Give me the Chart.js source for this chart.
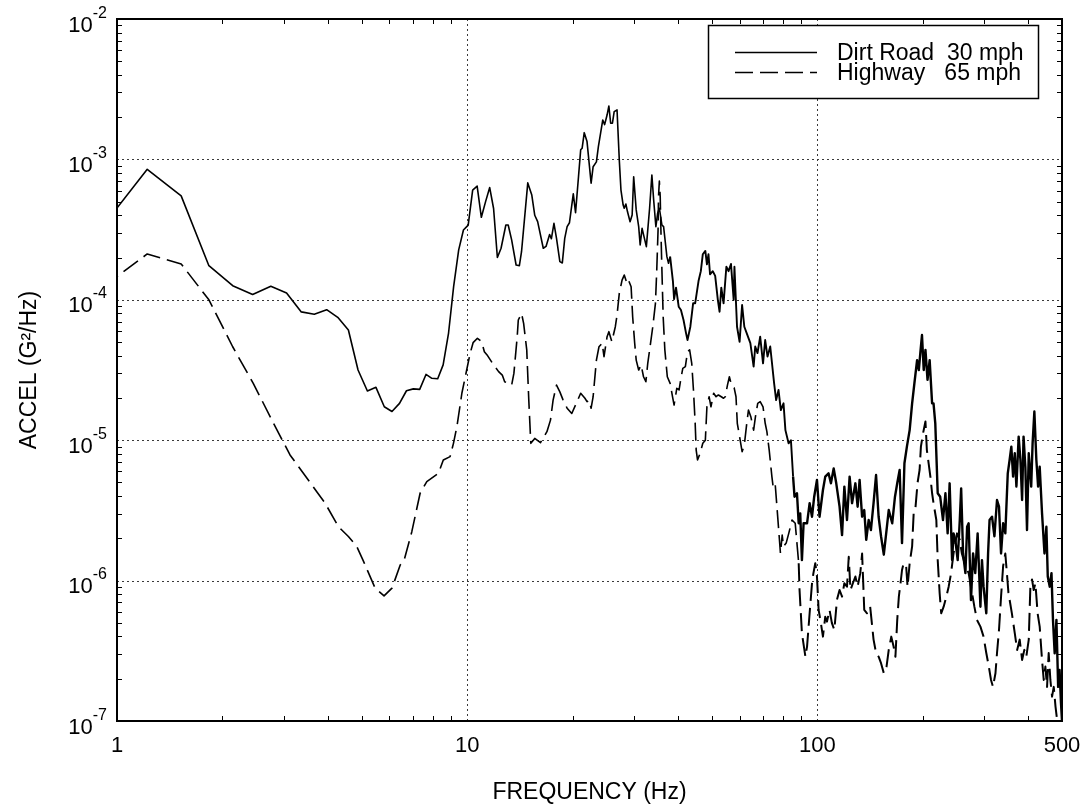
<!DOCTYPE html>
<html>
<head>
<meta charset="utf-8">
<script src="https://cdn.jsdelivr.net/npm/chart.js@4/dist/chart.umd.min.js"></script>
<style>
html,body{margin:0;padding:0;background:#fff;}
canvas{display:block;}
</style>
</head>
<body>
<canvas id="c" width="1087" height="808"></canvas>
<script>
// ---- axis / tick definitions ----
const xTickLabels = [1, 10, 100, 500];
const xGridLines = [10, 100];
const xMinorTicks = [2,3,4,5,6,7,8,9,20,30,40,50,60,70,80,90,200,300,400];
const yTickExponents = [-2, -3, -4, -5, -6, -7];
const yGridLines = [1e-3, 1e-4, 1e-5, 1e-6];
const yMinorMantissas = [2,3,4,5,6,7,8,9];
const yDecades = [1e-7, 1e-6, 1e-5, 1e-4, 1e-3];
const xTitle = 'FREQUENCY (Hz)';
const yTitle = 'ACCEL (G\u00B2/Hz)';
const labelDirt = 'Dirt Road  30 mph';
const labelHwy = 'Highway   65 mph';

// ---- Dirt Road 30 mph (solid) ----
const dirtFreq = [0.915,1.22,1.525,1.83,2.14,2.44,2.75,3.05,3.36,3.66,3.97,4.27,4.58,4.88,5.19,5.49,5.8,6.1,6.41,6.71,7.02,7.32,7.63,7.93,8.24,8.54,8.85,9.15,9.46,9.76,10.07,10.37,10.68,10.98,11.29,11.6,11.9,12.2,12.5,12.9,13.1,13.4,13.8,14.1,14.3,14.9,15.3,15.6,15.9,16.5,16.8,17.2,17.4,17.7,18.0,18.4,18.7,19.0,19.3,19.6,20.1,20.4,20.8,21.1,21.3,21.6,22.0,22.6,22.9,23.4,23.7,24.4,24.7,25.1,25.4,25.7,26.0,26.3,26.8,27.2,27.5,27.9,28.1,28.4,28.7,29.2,29.6,29.9,30.4,30.9,31.2,31.6,32.0,32.5,33.2,33.7,34.1,34.6,35.0,35.4,36.0,36.4,37.2,37.6,38.0,38.7,39.0,39.5,40.2,40.8,41.5,42.2,42.6,43.4,44.2,44.8,45.8,46.5,47.1,47.9,48.4,48.9,49.4,50.3,51.1,52.0,52.6,53.2,54.0,55.0,55.8,56.7,57.7,58.0,59.0,60.0,61.0,61.9,62.9,64.4,65.8,66.5,67.5,68.7,70.0,71.0,72.1,73.4,75.3,76.3,77.5,78.7,80.1,81.1,82.8,84.1,85.3,86.1,87.5,88.5,89.4,90.4,91.4,93.5,95.1,96.6,98.0,99.8,101.5,103.8,105.4,107.7,109.4,111.4,113.3,115.8,117.7,119.5,121.6,123.7,125.7,128.5,130.4,132.1,134.3,136.2,138.0,140.2,142.3,144.8,147.2,149.7,152.1,154.9,157.7,160.0,163.7,166.7,169.2,171.9,174.6,177.4,180.3,183.6,186.6,189.4,192.8,195.0,196.9,199.1,201.4,203.7,206.5,209.4,212.8,214.8,217.3,220.8,224.4,228.6,232.3,235.7,238.8,242.7,245.0,247.9,251.8,255.3,257.6,260.9,264.9,267.9,270.6,274.8,278.6,282.6,287.1,292.4,295.4,298.5,303.9,307.5,310.5,315.6,320.6,326.1,330.4,334.9,339.5,344.4,350.0,354.3,358.3,362.5,366.5,370.5,376.0,380.4,384.6,388.3,392.9,397.2,401.8,408.3,412.1,416.9,422.4,427.3,431.8,438.5,445.6,451.2,455.3,461.3,466.6,471.2,476.5,482.0,487.5,492.1,496.7,500];
const dirtAccel = [3.4e-4,8.5e-4,5.5e-4,1.75e-4,1.26e-4,1.09e-4,1.25e-4,1.12e-4,8.2e-5,7.9e-5,8.5e-5,7.5e-5,6.1e-5,3.16e-5,2.24e-5,2.38e-5,1.73e-5,1.6e-5,1.83e-5,2.25e-5,2.32e-5,2.3e-5,2.94e-5,2.76e-5,2.74e-5,3.44e-5,5.8e-5,1.24e-4,2.27e-4,3.14e-4,3.4e-4,6.05e-4,6.45e-4,3.87e-4,5.0e-4,6.3e-4,4.47e-4,2.0e-4,2.33e-4,3.41e-4,3.41e-4,2.67e-4,1.77e-4,1.75e-4,2.2e-4,6.8e-4,5.57e-4,4.0e-4,3.6e-4,2.33e-4,2.4e-4,2.92e-4,2.72e-4,3.5e-4,2.74e-4,1.87e-4,1.83e-4,2.74e-4,3.32e-4,3.54e-4,5.68e-4,4.18e-4,7.53e-4,1.17e-3,1.2e-3,1.55e-3,1.34e-3,6.76e-4,8.87e-4,9.6e-4,1.23e-3,1.91e-3,1.77e-3,2.07e-3,2.4e-3,1.81e-3,1.81e-3,2.19e-3,2.25e-3,9.9e-4,6.05e-4,4.73e-4,4.49e-4,4.81e-4,4.25e-4,3.6e-4,4.02e-4,7.53e-4,4.37e-4,3.32e-4,2.46e-4,3.23e-4,2.82e-4,2.39e-4,4.49e-4,7.74e-4,5.14e-4,3.32e-4,4.13e-4,4.49e-4,3.41e-4,3.32e-4,2.03e-4,1.82e-4,2.03e-4,1.36e-4,1.01e-4,1.22e-4,8.93e-5,8.45e-5,7.18e-5,5.77e-5,5.17e-5,6.43e-5,9.44e-5,9.44e-5,1.36e-4,1.6e-4,2.11e-4,2.23e-4,1.79e-4,2.11e-4,1.52e-4,1.6e-4,1.48e-4,1.0e-4,8.22e-5,1.22e-4,9.44e-5,1.72e-4,1.6e-4,1.8e-4,1.0e-4,1.72e-4,6.43e-5,5.02e-5,9.18e-5,6.43e-5,5.77e-5,4.91e-5,3.34e-5,4.65e-5,4.17e-5,5.46e-5,3.53e-5,5.17e-5,3.94e-5,4.65e-5,2.54e-5,1.93e-5,2.28e-5,1.64e-5,1.83e-5,1.18e-5,9.5e-6,1.0e-5,5.5e-6,3.96e-6,4.19e-6,2.56e-6,3.01e-6,1.4e-6,2.56e-6,2.56e-6,3.56e-6,2.85e-6,3.96e-6,5.21e-6,2.85e-6,4.42e-6,5.5e-6,5.81e-6,4.93e-6,6.3e-6,4.93e-6,3.36e-6,2.11e-6,4.67e-6,2.7e-6,5.5e-6,3.56e-6,4.93e-6,3.36e-6,5.21e-6,2.85e-6,3.18e-6,1.95e-6,2.7e-6,2.29e-6,3.56e-6,5.65e-6,2.85e-6,2.07e-6,1.53e-6,2.29e-6,3.18e-6,2.56e-6,3.96e-6,4.93e-6,6.14e-6,1.85e-6,6.85e-6,9.0e-6,1.18e-5,1.83e-5,2.54e-5,3.72e-5,3.16e-5,4.16e-5,5.61e-5,3.16e-5,4.4e-5,2.69e-5,3.72e-5,1.83e-5,1.83e-5,1.32e-5,4.19e-6,3.96e-6,2.7e-6,4.19e-6,2.17e-6,4.93e-6,1.4e-6,2.17e-6,1.95e-6,1.4e-6,2.7e-6,4.54e-6,1.56e-6,1.13e-6,2.42e-6,2.56e-6,7.26e-7,1.56e-6,1.13e-6,2.17e-6,6.52e-7,1.4e-6,9.05e-7,5.85e-7,1.56e-6,2.7e-6,2.85e-6,2.07e-6,3.75e-6,3.36e-6,1.56e-6,2.56e-6,2.17e-6,5.81e-6,7.23e-6,9.0e-6,5.5e-6,8.07e-6,4.67e-6,1.06e-5,7.23e-6,3.75e-6,1.06e-5,6.47e-6,2.29e-6,8.07e-6,4.67e-6,9.5e-6,1.6e-5,7.23e-6,4.67e-6,6.47e-6,3.01e-6,1.56e-6,2.42e-6,1.07e-6,9.05e-7,1.13e-6,5.25e-7,3.03e-7,5.25e-7,1.75e-7,2.31e-7,1.34e-7,1.0e-7];

// ---- Highway 65 mph (dashed) ----
const hwyFreq = [0.915,1.22,1.525,1.83,2.14,2.45,2.77,3.12,3.72,3.93,4.29,4.58,4.84,5.06,5.46,5.79,6.1,6.44,6.61,6.95,7.34,7.67,8.28,8.55,8.94,9.14,9.35,9.66,10.2,10.4,10.7,11.0,11.2,11.4,11.9,12.3,12.6,12.8,13.4,13.6,13.9,14.0,14.3,14.5,14.8,15.0,15.2,15.6,16.2,16.9,17.3,17.6,18.0,18.4,18.8,19.3,19.9,20.6,21.1,21.7,22.0,22.3,22.6,22.9,23.4,23.8,24.3,24.6,25.1,25.4,25.9,26.5,26.8,27.2,27.7,28.1,28.6,28.9,29.4,29.7,30.1,30.4,30.9,31.4,31.9,32.4,32.8,33.3,33.9,34.5,34.8,35.1,35.2,35.4,35.6,35.8,36.0,36.3,36.7,37.3,38.0,38.6,39.0,39.7,40.3,40.8,41.3,42.0,42.6,43.2,43.8,44.3,44.8,45.1,45.5,46.3,47.1,47.9,48.4,49.1,49.7,50.6,51.4,52.2,53.2,54.0,54.6,55.4,56.1,57.0,57.9,58.6,59.1,60.0,61.0,61.9,62.9,63.6,64.6,65.8,66.6,67.6,68.7,70.0,71.0,71.8,72.9,74.2,74.8,75.8,76.7,77.6,78.5,79.4,80.1,81.5,82.9,84.7,86.5,88.5,89.0,90.4,92.5,93.5,95.1,96.6,97.5,98.7,99.8,100.9,102.4,103.8,105.4,106.6,108.4,110.1,111.9,113.8,115.8,117.7,119.5,121.6,123.0,124.4,126.4,128.5,130.4,132.7,134.3,136.2,138.7,141.6,144.8,147.2,149.7,152.1,154.9,157.7,160.0,162.7,165.2,167.2,169.2,171.0,172.9,174.6,176.5,179.4,181.1,183.6,186.6,188.5,190.5,193.4,196.0,197.7,200.5,203.7,205.6,208.0,210.4,212.8,214.8,218.8,220.8,223.6,225.9,229.6,233.7,237.3,241.1,245.0,250.7,255.3,258.8,264.9,270.6,276.7,281.0,285.8,292.4,298.5,303.9,309.0,313.5,317.6,322.8,326.1,330.4,334.9,339.5,344.4,348.0,351.6,359.6,366.5,372.3,378.6,384.6,390.3,395.4,401.8,406.1,410.5,415.1,419.8,425.9,431.8,438.5,443.4,448.2,453.2,458.1,463.2,468.4,473.6,479.2,484.6,500];
const hwyAccel = [1.24e-4,2.12e-4,1.8e-4,1.0e-4,4.63e-5,2.54e-5,1.39e-5,7.85e-6,4.3e-6,3.56e-6,2.42e-6,2.06e-6,1.75e-6,1.37e-6,8.83e-7,7.78e-7,8.83e-7,1.29e-6,1.4e-6,2.23e-6,4.19e-6,5.07e-6,5.81e-6,7.23e-6,7.64e-6,9.5e-6,1.25e-5,2.16e-5,4.16e-5,4.95e-5,5.32e-5,5.03e-5,4.27e-5,4.05e-5,3.44e-5,3.08e-5,2.91e-5,2.61e-5,2.47e-5,2.99e-5,5.46e-5,7.18e-5,8.0e-5,6.8e-5,4.4e-5,1.93e-5,9.5e-6,1.03e-5,9.6e-6,1.15e-5,1.39e-5,1.93e-5,2.47e-5,2.21e-5,1.93e-5,1.69e-5,1.55e-5,1.88e-5,2.16e-5,1.99e-5,1.88e-5,1.93e-5,1.69e-5,2.04e-5,3.72e-5,4.63e-5,4.9e-5,3.94e-5,5.46e-5,5.93e-5,5.03e-5,6.43e-5,7.78e-5,1.11e-4,1.38e-4,1.5e-4,1.31e-4,1.38e-4,1.24e-4,7.58e-5,4.9e-5,3.72e-5,3.16e-5,3.44e-5,2.83e-5,2.61e-5,3.53e-5,4.63e-5,6.43e-5,9.44e-5,1.63e-4,3.14e-4,5.42e-4,7.0e-4,5.42e-4,2.81e-4,1.63e-4,7.58e-5,4.4e-5,2.83e-5,2.54e-5,2.04e-5,1.78e-5,2.34e-5,2.28e-5,2.76e-5,3.25e-5,3.34e-5,4.27e-5,4.4e-5,3.53e-5,2.28e-5,1.32e-5,8.5e-6,7.23e-6,8.07e-6,9.5e-6,1.0e-5,1.73e-5,2.04e-5,1.73e-5,2.16e-5,2.04e-5,2.1e-5,2.04e-5,1.99e-5,2.04e-5,2.47e-5,2.83e-5,2.42e-5,2.36e-5,2.04e-5,1.32e-5,1.06e-5,8.28e-6,9.25e-6,1.32e-5,1.64e-5,1.47e-5,1.18e-5,1.47e-5,1.83e-5,1.88e-5,1.73e-5,1.32e-5,1.15e-5,8.5e-6,5.5e-6,4.67e-6,4.93e-6,3.36e-6,2.29e-6,1.56e-6,2.11e-6,1.75e-6,1.85e-6,2.17e-6,2.7e-6,2.56e-6,1.33e-6,8.57e-7,4.22e-7,2.87e-7,3.39e-7,5.85e-7,9.57e-7,1.13e-6,1.33e-6,1.07e-6,6.18e-7,4.98e-7,3.99e-7,5.53e-7,5.1e-7,6.18e-7,4.98e-7,4.46e-7,7.28e-7,8.57e-7,7.69e-7,9.57e-7,9.05e-7,1.48e-6,8.57e-7,9.57e-7,1.07e-6,9.05e-7,1.13e-6,1.56e-6,6.18e-7,5.85e-7,6.52e-7,3.8e-7,3.05e-7,2.87e-7,2.58e-7,2.19e-7,2.44e-7,3.21e-7,3.99e-7,3.39e-7,2.87e-7,5.25e-7,7.69e-7,9.57e-7,1.19e-6,1.33e-6,1.27e-6,9.05e-7,1.33e-6,1.75e-6,3.01e-6,3.18e-6,4.97e-6,6.14e-6,9.0e-6,1.12e-5,1.36e-5,8.5e-6,6.85e-6,5.5e-6,4.19e-6,3.56e-6,2.7e-6,1.4e-6,8.17e-7,5.85e-7,6.52e-7,7.69e-7,9.05e-7,1.13e-6,1.56e-6,2.17e-6,1.95e-6,1.56e-6,1.27e-6,1.13e-6,8.17e-7,6.52e-7,5.25e-7,4.7e-7,3.99e-7,3.05e-7,2.44e-7,1.96e-7,1.75e-7,2.19e-7,3.05e-7,4.46e-7,7.69e-7,1.27e-6,1.56e-6,1.13e-6,8.17e-7,5.85e-7,4.22e-7,3.21e-7,3.8e-7,2.72e-7,3.21e-7,2.87e-7,3.8e-7,9.05e-7,1.02e-6,8.57e-7,9.57e-7,5.85e-7,4.7e-7,2.72e-7,1.96e-7,2.44e-7,1.75e-7,3.05e-7,1.96e-7,1.49e-7,1.75e-7,1.26e-7,1.0e-7,8e-8];

const FONT = '"Liberation Sans", Arial, Helvetica, sans-serif';

const framePlugin = {
  id: 'framePlugin',
  beforeDatasetsDraw(chart) {
    const {ctx, chartArea: a, scales: {x, y}} = chart;
    ctx.save();
    ctx.strokeStyle = '#3a3a3a';
    ctx.lineWidth = 1;
    ctx.setLineDash([2, 3]);
    xGridLines.forEach(v => {
      const px = Math.round(x.getPixelForValue(v)) + 0.5;
      ctx.beginPath(); ctx.moveTo(px, a.top); ctx.lineTo(px, a.bottom); ctx.stroke();
    });
    yGridLines.forEach(v => {
      const py = Math.round(y.getPixelForValue(v)) + 0.5;
      ctx.beginPath(); ctx.moveTo(a.left, py); ctx.lineTo(a.right, py); ctx.stroke();
    });
    ctx.restore();
  },
  afterDatasetsDraw(chart) {
    const {ctx, chartArea: a, scales: {x, y}} = chart;
    ctx.save();
    // frame
    ctx.strokeStyle = '#000';
    ctx.lineWidth = 2;
    ctx.setLineDash([]);
    ctx.strokeRect(a.left, a.top, a.right - a.left, a.bottom - a.top);
    // minor ticks (inside, all four sides)
    ctx.lineWidth = 1;
    const tl = 5;
    xMinorTicks.forEach(v => {
      const px = Math.round(x.getPixelForValue(v)) + 0.5;
      ctx.beginPath();
      ctx.moveTo(px, a.bottom); ctx.lineTo(px, a.bottom - tl);
      ctx.moveTo(px, a.top); ctx.lineTo(px, a.top + tl);
      ctx.stroke();
    });
    yDecades.forEach(d => {
      yMinorMantissas.forEach(m => {
        const py = Math.round(y.getPixelForValue(m * d)) + 0.5;
        ctx.beginPath();
        ctx.moveTo(a.left, py); ctx.lineTo(a.left + tl, py);
        ctx.moveTo(a.right, py); ctx.lineTo(a.right - tl, py);
        ctx.stroke();
      });
    });
    // x tick labels
    ctx.fillStyle = '#000';
    ctx.font = '22px ' + FONT;
    ctx.textAlign = 'center';
    ctx.textBaseline = 'alphabetic';
    xTickLabels.forEach(v => {
      ctx.fillText(String(v), x.getPixelForValue(v), 751.5);
    });
    // y tick labels with superscript exponent
    yTickExponents.forEach(e => {
      const py = y.getPixelForValue(Math.pow(10, e));
      const supTxt = String(e);
      ctx.font = '16px ' + FONT;
      const w2 = ctx.measureText(supTxt).width;
      ctx.font = '22px ' + FONT;
      const w1 = ctx.measureText('10').width;
      const right = a.left - 10;
      ctx.textAlign = 'left';
      ctx.fillText('10', right - w2 - w1, py + 12.5);
      ctx.font = '16px ' + FONT;
      ctx.fillText(supTxt, right - w2, py - 1.5);
    });
    // axis titles
    ctx.font = '23px ' + FONT;
    ctx.textAlign = 'center';
    ctx.fillText(xTitle, (a.left + a.right) / 2, 798.5);
    ctx.save();
    ctx.translate(35.5, (a.top + a.bottom) / 2);
    ctx.rotate(-Math.PI / 2);
    ctx.fillText(yTitle, 0, 0);
    ctx.restore();
    // legend
    const box = {l: 708.5, t: 25.5, r: 1038.5, b: 98.5};
    ctx.fillStyle = '#fff';
    ctx.fillRect(box.l, box.t, box.r - box.l, box.b - box.t);
    ctx.strokeStyle = '#000';
    ctx.lineWidth = 1.5;
    ctx.strokeRect(box.l, box.t, box.r - box.l, box.b - box.t);
    const rows = [52, 72];
    chart.data.datasets.forEach((ds, i) => {
      ctx.strokeStyle = ds.borderColor;
      ctx.lineWidth = 1.6;
      ctx.setLineDash(ds.borderDash || []);
      ctx.beginPath();
      ctx.moveTo(735, rows[i] + 0.5); ctx.lineTo(817, rows[i] + 0.5);
      ctx.stroke();
      ctx.setLineDash([]);
      ctx.fillStyle = '#000';
      ctx.font = '23px ' + FONT;
      ctx.textAlign = 'left';
      ctx.fillText(ds.label, 837, rows[i] + 8.3);
    });
    ctx.restore();
  }
};

new Chart(document.getElementById('c').getContext('2d'), {
  type: 'line',
  data: {
    datasets: [
      {
        label: labelDirt,
        data: dirtFreq.map((f, i) => ({x: f, y: dirtAccel[i]})),
        borderColor: '#000', borderWidth: 1.6, pointRadius: 0, fill: false,
        tension: 0, borderJoinStyle: 'round',
        segment: {
          borderWidth: c => (c.p0.parsed.x >= 85 ? 2.4 : (c.p0.parsed.x >= 38 ? 1.9 : 1.6))
        }
      },
      {
        label: labelHwy,
        data: hwyFreq.map((f, i) => ({x: f, y: hwyAccel[i]})),
        borderColor: '#000', borderWidth: 1.6, pointRadius: 0, fill: false,
        tension: 0, borderDash: [18, 7], borderJoinStyle: 'round',
        segment: {
          borderWidth: c => (c.p0.parsed.x >= 88 ? 2.0 : 1.6)
        }
      }
    ]
  },
  options: {
    responsive: false,
    animation: false,
    devicePixelRatio: 1,
    layout: {padding: {left: 117, right: 25, top: 19, bottom: 87}},
    scales: {
      x: {type: 'logarithmic', min: 1, max: 500, display: false},
      y: {type: 'logarithmic', min: 1e-7, max: 1e-2, display: false}
    },
    plugins: {legend: {display: false}, tooltip: {enabled: false}}
  },
  plugins: [framePlugin]
});
</script>
</body>
</html>
